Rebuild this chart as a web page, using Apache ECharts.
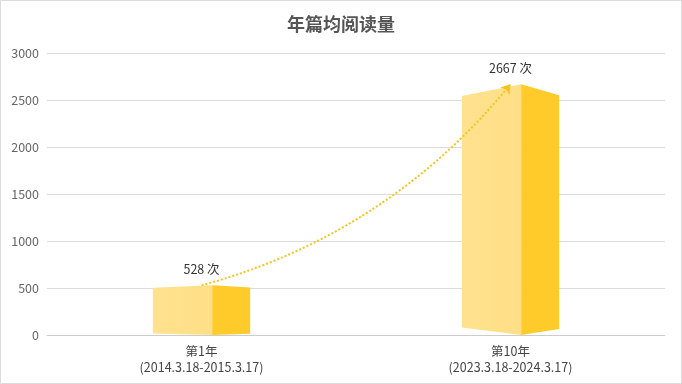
<!DOCTYPE html>
<html>
<head>
<meta charset="utf-8">
<script src="https://cdn.jsdelivr.net/npm/echarts@6/dist/echarts.min.js"></script>
<style>
html,body{margin:0;padding:0;background:#fff;}
#wrap{width:680px;height:382px;border:1px solid #dcdcdc;}
#main{width:680px;height:382px;}
</style>
</head>
<body>
<div id="wrap"><div id="main"></div></div>
<script>
const categories = ['第1年\n(2014.3.18-2015.3.17)', '第10年\n(2023.3.18-2024.3.17)'];
const values = [528, 2667];
const unit = ' 次';
const titleText = '年篇均阅读量';

const chart = echarts.init(document.getElementById('main'));
const font = '"Noto Sans CJK SC", "Noto Sans", sans-serif';

function renderBar(params, api) {
  const top = api.coord([api.value(0), api.value(1)]);
  const base = api.coord([api.value(0), 0]);
  const band = api.size([1, 0])[0];
  const w = band * 0.315;
  const left = top[0] - w / 2;
  const mid = left + w * 0.61;
  const right = left + w;
  const h = base[1] - top[1];
  const dt = h * 0.047;
  const db = h * 0.03;
  return {
    type: 'group',
    children: [
      {
        type: 'polygon',
        shape: { points: [[left, top[1] + dt], [mid, top[1]], [mid, base[1]], [left, base[1] - db]] },
        style: {
          fill: new echarts.graphic.LinearGradient(0, 0, 1, 0, [
            { offset: 0, color: '#FFE28F' },
            { offset: 1, color: '#FFDF86' }
          ])
        }
      },
      {
        type: 'polygon',
        shape: { points: [[mid, top[1]], [right, top[1] + dt * 0.92], [right, base[1] - db * 0.8], [mid, base[1]]] },
        style: { fill: '#FFCB2B' }
      },
      {
        type: 'text',
        style: {
          x: top[0], y: top[1] - 16,
          text: api.value(1) + unit,
          align: 'center', verticalAlign: 'middle',
          fill: '#333', fontSize: 12.5, fontFamily: font
        }
      }
    ]
  };
}

chart.setOption({
  animation: false,
  title: {
    text: titleText, left: 'center', top: 9,
    textStyle: { fontSize: 18, fontWeight: 'bold', color: '#555', fontFamily: font }
  },
  grid: { left: 46, right: 16, top: 52, bottom: 48, containLabel: false },
  xAxis: {
    type: 'category',
    data: categories,
    axisLine: { lineStyle: { color: '#ccc' } },
    axisTick: { show: false },
    axisLabel: { color: '#444', fontSize: 12.5, lineHeight: 16, margin: 8, fontFamily: font }
  },
  yAxis: {
    type: 'value', min: 0, max: 3000, interval: 500,
    axisLine: { show: false }, axisTick: { show: false },
    axisLabel: { color: '#666', fontSize: 12.5, margin: 8, fontFamily: font, formatter: v => String(v) },
    splitLine: { lineStyle: { color: '#dcdcdc' } }
  },
  series: [
    {
      type: 'custom',
      renderItem: renderBar,
      data: values.map((v, i) => [i, v]),
      encode: { x: 0, y: 1 },
      z: 2
    },
    {
      type: 'lines',
      coordinateSystem: 'cartesian2d',
      z: 3,
      symbol: ['none', 'arrow'],
      symbolSize: 9,
      lineStyle: { color: '#F5C41C', width: 2, type: 'dotted', curveness: -0.16, opacity: 1 },
      data: [{ coords: [[0, values[0]], [1, values[1]]] }]
    }
  ]
});
</script>
</body>
</html>
